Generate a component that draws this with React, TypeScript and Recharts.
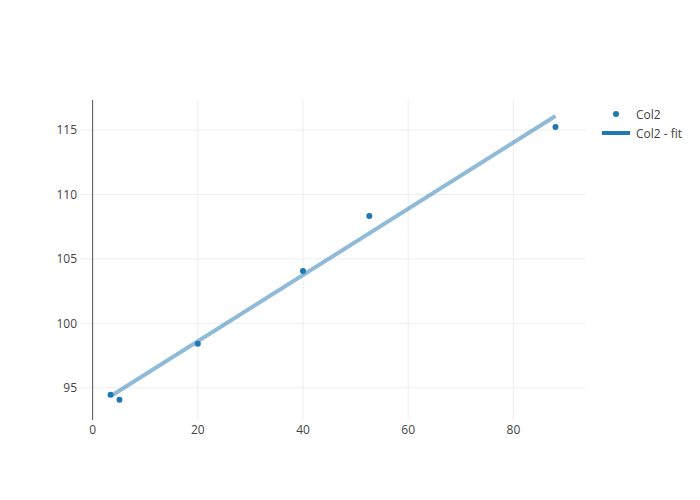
import React from 'react';
import {
  ComposedChart,
  Scatter,
  Line,
  XAxis,
  YAxis,
  CartesianGrid,
  ReferenceLine,
  Legend,
} from 'recharts';

// measured points (Col2)
const pointX = [3.4, 5.1, 20, 40, 52.6, 88];
const pointY = [94.45, 94.07, 98.41, 104.07, 108.33, 115.23];

// fitted line end points (Col2 - fit)
const fitX = [3.4, 88];
const fitY = [94.34, 116.09];

const xTicks = [0, 20, 40, 60, 80];
const yTicks = [95, 100, 105, 110, 115];

const points = pointX.map((x, i) => ({ x, y: pointY[i] }));
const fit = fitX.map((x, i) => ({ x, y: fitY[i] }));

const BLUE = '#1f77b4';
const FONT = '"Open Sans", "Noto Sans", sans-serif';

const Dot = (props: any) => <circle cx={props.cx} cy={props.cy} r={3} fill={BLUE} />;

const LegendBox = () => (
  <svg width={100} height={40} style={{ fontFamily: FONT, fontSize: 12 }}>
    <circle cx={16} cy={9} r={3} fill={BLUE} />
    <text x={36} y={9} dominantBaseline="central" fill="#444">
      Col2
    </text>
    <line x1={2} x2={30} y1={28} y2={28} stroke={BLUE} strokeWidth={4} />
    <text x={36} y={28} dominantBaseline="central" fill="#444">
      Col2 - fit
    </text>
  </svg>
);

const App = () => {
  return (
    <div style={{ position: 'absolute', left: 0, top: 0, background: '#fff' }}>
      <ComposedChart
        width={700}
        height={500}
        margin={{ top: 100, right: 114, bottom: 50, left: 0 }}
        style={{ fontFamily: FONT }}
      >
        <CartesianGrid stroke="#eee" strokeWidth={1} horizontalValues={yTicks} verticalValues={xTicks} />
        <XAxis
          type="number"
          dataKey="x"
          domain={[-2.4, 93.8]}
          ticks={xTicks}
          allowDataOverflow
          axisLine={false}
          tickLine={false}
          tickSize={0}
          tickMargin={5}
          height={30}
          tick={{ fill: '#444', fontSize: 12 }}
        />
        <YAxis
          type="number"
          dataKey="y"
          domain={[92.5, 117.33]}
          ticks={yTicks}
          allowDataOverflow
          axisLine={false}
          tickLine={false}
          tickSize={0}
          tickMargin={3}
          width={80}
          tick={{ fill: '#444', fontSize: 12 }}
        />
        <ReferenceLine x={0} stroke="#555" strokeWidth={1} />
        <Line
          data={fit}
          dataKey="y"
          type="linear"
          stroke={BLUE}
          strokeOpacity={0.5}
          strokeWidth={4}
          dot={false}
          activeDot={false}
          legendType="none"
          isAnimationActive={false}
        />
        <Scatter data={points} dataKey="y" shape={Dot} isAnimationActive={false} />
        <Legend
          layout="vertical"
          align="center"
          verticalAlign="middle"
          content={LegendBox}
          wrapperStyle={{ left: 600, top: 105, width: 100 }}
        />
      </ComposedChart>
    </div>
  );
};

export default App;
